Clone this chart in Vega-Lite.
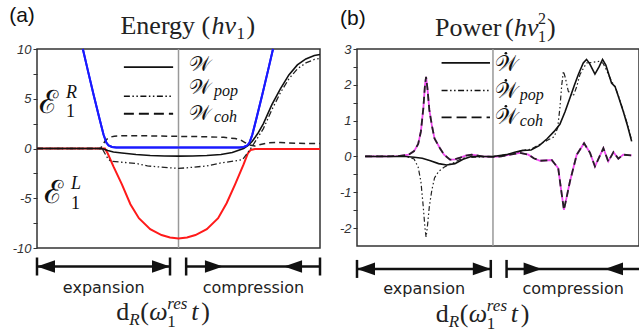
{
"$schema": "https://vega.github.io/schema/vega-lite/v6.json",
"padding": {"left": 8, "top": 4, "right": 0, "bottom": 0},
"spacing": 12,
"config": {"view": {"stroke": "#333", "strokeWidth": 1.5}, "axis": {"labelOverlap": false, "labelFlush": false}},
"datasets": {
"a": [
{"s":"ER","x":16.2,"y":10},{"s":"ER","x":18,"y":7.8},{"s":"ER","x":20,"y":5.4},{"s":"ER","x":22,"y":3.1},{"s":"ER","x":23.5,"y":1.4},{"s":"ER","x":24.5,"y":0.6},{"s":"ER","x":25.3,"y":0.3},{"s":"ER","x":26.5,"y":0.15},{"s":"ER","x":28,"y":0.1},{"s":"ER","x":50,"y":0.1},{"s":"ER","x":71.6,"y":0.1},{"s":"ER","x":73.1,"y":0.15},{"s":"ER","x":74.3,"y":0.3},{"s":"ER","x":75.1,"y":0.6},{"s":"ER","x":76.1,"y":1.4},{"s":"ER","x":77.6,"y":3.1},{"s":"ER","x":79.6,"y":5.4},{"s":"ER","x":81.6,"y":7.8},{"s":"ER","x":83.4,"y":10},
{"s":"EL","x":0,"y":0},{"s":"EL","x":24,"y":0},{"s":"EL","x":25,"y":-0.5},{"s":"EL","x":27,"y":-1.8},{"s":"EL","x":30,"y":-3.6},{"s":"EL","x":33,"y":-5.6},{"s":"EL","x":36,"y":-7.0},{"s":"EL","x":40,"y":-8.1},{"s":"EL","x":44,"y":-8.7},{"s":"EL","x":47,"y":-8.95},{"s":"EL","x":50,"y":-9.05},{"s":"EL","x":53,"y":-8.95},{"s":"EL","x":56,"y":-8.7},{"s":"EL","x":60,"y":-8.1},{"s":"EL","x":64,"y":-7.0},{"s":"EL","x":67,"y":-5.5},{"s":"EL","x":70,"y":-3.6},{"s":"EL","x":73,"y":-1.6},{"s":"EL","x":74.5,"y":-0.5},{"s":"EL","x":75.5,"y":-0.15},{"s":"EL","x":77,"y":-0.05},{"s":"EL","x":100,"y":-0.05},
{"s":"W","x":0,"y":0},{"s":"W","x":22,"y":0},{"s":"W","x":23.5,"y":-0.05},{"s":"W","x":25,"y":-0.2},{"s":"W","x":27,"y":-0.35},{"s":"W","x":30,"y":-0.45},{"s":"W","x":35,"y":-0.6},{"s":"W","x":40,"y":-0.7},{"s":"W","x":45,"y":-0.75},{"s":"W","x":50,"y":-0.77},{"s":"W","x":55,"y":-0.75},{"s":"W","x":60,"y":-0.7},{"s":"W","x":65,"y":-0.6},{"s":"W","x":69,"y":-0.4},{"s":"W","x":71,"y":-0.2},{"s":"W","x":73,"y":0.0},{"s":"W","x":74.5,"y":0.3},{"s":"W","x":76,"y":0.7},{"s":"W","x":78,"y":1.5},{"s":"W","x":80,"y":2.5},{"s":"W","x":83,"y":4.4},{"s":"W","x":86,"y":6.0},{"s":"W","x":89,"y":7.4},{"s":"W","x":92,"y":8.4},{"s":"W","x":95,"y":9.0},{"s":"W","x":98,"y":9.35},{"s":"W","x":100,"y":9.45},
{"s":"Wpop","x":0,"y":0},{"s":"Wpop","x":23,"y":0},{"s":"Wpop","x":24,"y":-0.5},{"s":"Wpop","x":25,"y":-1.0},{"s":"Wpop","x":26,"y":-1.28},{"s":"Wpop","x":30,"y":-1.38},{"s":"Wpop","x":35,"y":-1.5},{"s":"Wpop","x":39,"y":-1.75},{"s":"Wpop","x":45,"y":-1.9},{"s":"Wpop","x":50,"y":-2.0},{"s":"Wpop","x":53,"y":-1.94},{"s":"Wpop","x":60,"y":-1.75},{"s":"Wpop","x":65,"y":-1.45},{"s":"Wpop","x":70,"y":-1.25},{"s":"Wpop","x":72.7,"y":-1.1},{"s":"Wpop","x":74,"y":-0.6},{"s":"Wpop","x":76,"y":0.2},{"s":"Wpop","x":78,"y":1.1},{"s":"Wpop","x":80,"y":2.0},{"s":"Wpop","x":83,"y":3.9},{"s":"Wpop","x":86,"y":5.6},{"s":"Wpop","x":89,"y":7.0},{"s":"Wpop","x":92,"y":8.0},{"s":"Wpop","x":95,"y":8.6},{"s":"Wpop","x":98,"y":8.95},{"s":"Wpop","x":100,"y":9.05},
{"s":"Wcoh","x":0,"y":0},{"s":"Wcoh","x":22.5,"y":0},{"s":"Wcoh","x":23.2,"y":0.4},{"s":"Wcoh","x":24.5,"y":0.9},{"s":"Wcoh","x":26,"y":1.15},{"s":"Wcoh","x":27.3,"y":1.24},{"s":"Wcoh","x":30,"y":1.28},{"s":"Wcoh","x":40,"y":1.27},{"s":"Wcoh","x":50,"y":1.22},{"s":"Wcoh","x":60,"y":1.18},{"s":"Wcoh","x":66,"y":1.12},{"s":"Wcoh","x":70,"y":1.0},{"s":"Wcoh","x":72,"y":0.85},{"s":"Wcoh","x":73.5,"y":0.6},{"s":"Wcoh","x":75,"y":0.35},{"s":"Wcoh","x":77,"y":0.25},{"s":"Wcoh","x":79,"y":0.4},{"s":"Wcoh","x":82,"y":0.58},{"s":"Wcoh","x":86,"y":0.6},{"s":"Wcoh","x":92,"y":0.52},{"s":"Wcoh","x":100,"y":0.5}
],
"b": [
{"s":"W","x":3,"y":0},{"s":"W","x":18,"y":0},{"s":"W","x":21,"y":-0.02},{"s":"W","x":24,"y":-0.05},{"s":"W","x":27,"y":-0.12},{"s":"W","x":30,"y":-0.2},{"s":"W","x":33,"y":-0.24},{"s":"W","x":36,"y":-0.2},{"s":"W","x":39,"y":-0.08},{"s":"W","x":42,"y":0},{"s":"W","x":50,"y":0},{"s":"W","x":55,"y":0.05},{"s":"W","x":58,"y":0.12},{"s":"W","x":61,"y":0.17},{"s":"W","x":64,"y":0.18},{"s":"W","x":67,"y":0.3},{"s":"W","x":70,"y":0.5},{"s":"W","x":72.5,"y":0.7},{"s":"W","x":74.6,"y":0.9},{"s":"W","x":76.5,"y":1.25},{"s":"W","x":78.3,"y":1.63},{"s":"W","x":80,"y":2.0},{"s":"W","x":81.4,"y":2.29},{"s":"W","x":83.2,"y":2.61},{"s":"W","x":84.4,"y":2.71},{"s":"W","x":85.5,"y":2.6},{"s":"W","x":87.5,"y":2.3},{"s":"W","x":89,"y":2.5},{"s":"W","x":90.3,"y":2.71},{"s":"W","x":91.5,"y":2.55},{"s":"W","x":93.6,"y":2.05},{"s":"W","x":94.9,"y":1.95},{"s":"W","x":96,"y":1.7},{"s":"W","x":97.9,"y":1.26},{"s":"W","x":99.5,"y":0.85},{"s":"W","x":101,"y":0.42},
{"s":"Wpop","x":3,"y":0},{"s":"Wpop","x":18,"y":0},{"s":"Wpop","x":21,"y":-0.07},{"s":"Wpop","x":22.5,"y":-0.3},{"s":"Wpop","x":23.5,"y":-0.7},{"s":"Wpop","x":24.3,"y":-1.35},{"s":"Wpop","x":25,"y":-2.0},{"s":"Wpop","x":25.4,"y":-2.25},{"s":"Wpop","x":25.9,"y":-1.95},{"s":"Wpop","x":26.6,"y":-1.4},{"s":"Wpop","x":27.5,"y":-0.95},{"s":"Wpop","x":28.5,"y":-0.6},{"s":"Wpop","x":30,"y":-0.42},{"s":"Wpop","x":32,"y":-0.3},{"s":"Wpop","x":34,"y":-0.22},{"s":"Wpop","x":36,"y":-0.16},{"s":"Wpop","x":38,"y":-0.08},{"s":"Wpop","x":40,"y":-0.03},{"s":"Wpop","x":44,"y":-0.02},{"s":"Wpop","x":50,"y":0},{"s":"Wpop","x":55,"y":0.05},{"s":"Wpop","x":58,"y":0.1},{"s":"Wpop","x":61,"y":0.17},{"s":"Wpop","x":64,"y":0.2},{"s":"Wpop","x":67,"y":0.33},{"s":"Wpop","x":70,"y":0.45},{"s":"Wpop","x":72.5,"y":0.55},{"s":"Wpop","x":73.8,"y":0.8},{"s":"Wpop","x":74.6,"y":1.35},{"s":"Wpop","x":75.3,"y":2.0},{"s":"Wpop","x":75.9,"y":2.38},{"s":"Wpop","x":76.6,"y":2.2},{"s":"Wpop","x":77.7,"y":1.82},{"s":"Wpop","x":79.5,"y":1.68},{"s":"Wpop","x":80.8,"y":1.95},{"s":"Wpop","x":82,"y":2.29},{"s":"Wpop","x":84.4,"y":2.61},{"s":"Wpop","x":87,"y":2.63},{"s":"Wpop","x":89.3,"y":2.66},{"s":"Wpop","x":90.5,"y":2.6},{"s":"Wpop","x":91.8,"y":2.4},{"s":"Wpop","x":93.6,"y":2.1},{"s":"Wpop","x":94.9,"y":1.95},{"s":"Wpop","x":96,"y":1.72},{"s":"Wpop","x":97.9,"y":1.28},{"s":"Wpop","x":99.5,"y":0.88},{"s":"Wpop","x":101,"y":0.45},
{"s":"Wcoh","x":3,"y":0},{"s":"Wcoh","x":10,"y":0},{"s":"Wcoh","x":15,"y":0.01},{"s":"Wcoh","x":19,"y":0.05},{"s":"Wcoh","x":21,"y":0.15},{"s":"Wcoh","x":22.5,"y":0.35},{"s":"Wcoh","x":23.5,"y":0.7},{"s":"Wcoh","x":24.4,"y":1.35},{"s":"Wcoh","x":25,"y":2.0},{"s":"Wcoh","x":25.4,"y":2.22},{"s":"Wcoh","x":25.9,"y":1.9},{"s":"Wcoh","x":26.6,"y":1.3},{"s":"Wcoh","x":27.5,"y":0.88},{"s":"Wcoh","x":28.5,"y":0.5},{"s":"Wcoh","x":30.5,"y":0.23},{"s":"Wcoh","x":32,"y":0.05},{"s":"Wcoh","x":34.2,"y":-0.09},{"s":"Wcoh","x":36,"y":-0.08},{"s":"Wcoh","x":38,"y":-0.03},{"s":"Wcoh","x":40,"y":0.02},{"s":"Wcoh","x":42.2,"y":0.05},{"s":"Wcoh","x":44,"y":0.03},{"s":"Wcoh","x":46,"y":0},{"s":"Wcoh","x":50,"y":-0.01},{"s":"Wcoh","x":53,"y":0},{"s":"Wcoh","x":56.3,"y":0.05},{"s":"Wcoh","x":60,"y":0.1},{"s":"Wcoh","x":63,"y":0.05},{"s":"Wcoh","x":65,"y":-0.05},{"s":"Wcoh","x":67.3,"y":-0.12},{"s":"Wcoh","x":71.6,"y":-0.1},{"s":"Wcoh","x":74,"y":-0.33},{"s":"Wcoh","x":75,"y":-0.9},{"s":"Wcoh","x":76.1,"y":-1.49},{"s":"Wcoh","x":77.2,"y":-1.1},{"s":"Wcoh","x":78.3,"y":-0.7},{"s":"Wcoh","x":80.8,"y":0.05},{"s":"Wcoh","x":83.5,"y":0.37},{"s":"Wcoh","x":85.7,"y":0.1},{"s":"Wcoh","x":87.5,"y":-0.28},{"s":"Wcoh","x":90.6,"y":0.23},{"s":"Wcoh","x":92.4,"y":-0.14},{"s":"Wcoh","x":94.3,"y":0.12},{"s":"Wcoh","x":96.1,"y":-0.06},{"s":"Wcoh","x":97.9,"y":0.05},{"s":"Wcoh","x":101,"y":0.03}
]
},
"hconcat": [
{
"width": 283, "height": 199,
"data": {"values": [{}]},
"layer": [
{"data": {"name": "a"}, "transform": [{"filter": "datum.s === 'ER'"}], "mark": {"type": "line", "color": "#1a1aff", "strokeWidth": 2},
 "encoding": {"x": {"field": "x", "type": "quantitative", "scale": {"domain": [0, 100], "nice": false, "zero": false}, "axis": null},
  "y": {"field": "y", "type": "quantitative", "scale": {"domain": [-10, 10], "nice": false, "zero": false},
   "axis": {"title": null, "values": [-10, -7.5, -5, -2.5, 0, 2.5, 5, 7.5, 10], "tickCount": 40, "labelExpr": "datum.value % 5 == 0 ? toString(datum.value) : ''", "grid": false, "domain": false, "ticks": true, "tickSize": 4, "tickColor": "#333", "tickWidth": 1, "labelFont": "Liberation Sans", "labelFontStyle": "italic", "labelFontSize": 13, "labelColor": "#333", "labelPadding": 2, "labelOverlap": false, "labelFlush": false}}}},
{"mark": {"type": "rule", "color": "#999", "strokeWidth": 1.5}, "encoding": {"x": {"datum": 50, "type": "quantitative", "axis": null}}},
{"data": {"name": "a"}, "transform": [{"filter": "datum.s === 'EL'"}], "mark": {"type": "line", "color": "#ff1a1a", "strokeWidth": 2}, "encoding": {"x": {"field": "x", "type": "quantitative", "axis": null}, "y": {"field": "y", "type": "quantitative"}}},
{"data": {"name": "a"}, "transform": [{"filter": "datum.s === 'Wcoh'"}], "mark": {"type": "line", "color": "#222", "strokeWidth": 1.5, "strokeDash": [6, 4]}, "encoding": {"x": {"field": "x", "type": "quantitative", "axis": null}, "y": {"field": "y", "type": "quantitative"}}},
{"data": {"name": "a"}, "transform": [{"filter": "datum.s === 'Wpop'"}], "mark": {"type": "line", "color": "#222", "strokeWidth": 1.3, "strokeDash": [6, 2.5, 1.5, 2.5, 1.5, 2.5]}, "encoding": {"x": {"field": "x", "type": "quantitative", "axis": null}, "y": {"field": "y", "type": "quantitative"}}},
{"data": {"name": "a"}, "transform": [{"filter": "datum.s === 'W'"}], "mark": {"type": "line", "color": "#111", "strokeWidth": 1.6}, "encoding": {"x": {"field": "x", "type": "quantitative", "axis": null}, "y": {"field": "y", "type": "quantitative"}}},
{"data": {"name": "a"}, "transform": [{"filter": "datum.s === 'ER'"}], "mark": {"type": "line", "color": "#1a1aff", "strokeWidth": 2}, "encoding": {"x": {"field": "x", "type": "quantitative", "axis": null}, "y": {"field": "y", "type": "quantitative"}}},
{"mark": {"type": "rule", "color": "#111", "strokeWidth": 1.8}, "encoding": {"x": {"datum": 30.7, "type": "quantitative", "axis": null}, "x2": {"datum": 48.1}, "y": {"datum": 8.17, "type": "quantitative"}}},
{"mark": {"type": "rule", "color": "#111", "strokeWidth": 1.5, "strokeDash": [6, 2.5, 1.5, 2.5, 1.5, 2.5]}, "encoding": {"x": {"datum": 30.7, "type": "quantitative", "axis": null}, "x2": {"datum": 48.1}, "y": {"datum": 5.26, "type": "quantitative"}}},
{"mark": {"type": "rule", "color": "#111", "strokeWidth": 1.8, "strokeDash": [10, 5]}, "encoding": {"x": {"datum": 30.7, "type": "quantitative", "axis": null}, "x2": {"datum": 48.1}, "y": {"datum": 3.49, "type": "quantitative"}}},
{"mark": {"type": "text", "text": "𝒲", "font": "DejaVu Serif", "fontSize": 21, "align": "left", "baseline": "alphabetic", "color": "#111"}, "encoding": {"x": {"datum": 53.7, "type": "quantitative", "axis": null}, "y": {"datum": 7.8, "type": "quantitative"}}},
{"mark": {"type": "text", "text": "𝒲", "font": "DejaVu Serif", "fontSize": 21, "align": "left", "baseline": "alphabetic", "color": "#111"}, "encoding": {"x": {"datum": 53.7, "type": "quantitative", "axis": null}, "y": {"datum": 5.43, "type": "quantitative"}}},
{"mark": {"type": "text", "text": "𝒲", "font": "DejaVu Serif", "fontSize": 21, "align": "left", "baseline": "alphabetic", "color": "#111"}, "encoding": {"x": {"datum": 53.7, "type": "quantitative", "axis": null}, "y": {"datum": 2.91, "type": "quantitative"}}},
{"mark": {"type": "text", "text": "pop", "font": "Liberation Serif", "fontStyle": "italic", "fontSize": 16, "align": "left", "baseline": "alphabetic", "dx": 25, "dy": 2, "color": "#111"}, "encoding": {"x": {"datum": 53.7, "type": "quantitative", "axis": null}, "y": {"datum": 5.43, "type": "quantitative"}}},
{"mark": {"type": "text", "text": "coh", "font": "Liberation Serif", "fontStyle": "italic", "fontSize": 16, "align": "left", "baseline": "alphabetic", "dx": 25, "dy": 2, "color": "#111"}, "encoding": {"x": {"datum": 53.7, "type": "quantitative", "axis": null}, "y": {"datum": 2.91, "type": "quantitative"}}},
{"mark": {"type": "text", "text": "ℰ", "font": "DejaVu Serif", "fontSize": 32, "align": "left", "baseline": "alphabetic", "color": "#111"}, "encoding": {"x": {"datum": 0.7, "type": "quantitative", "axis": null}, "y": {"datum": 3.6, "type": "quantitative"}}},
{"mark": {"type": "text", "text": "R", "font": "Liberation Serif", "fontStyle": "italic", "fontSize": 18, "align": "left", "baseline": "alphabetic", "dx": 27, "dy": -15, "color": "#111"}, "encoding": {"x": {"datum": 0.7, "type": "quantitative", "axis": null}, "y": {"datum": 3.6, "type": "quantitative"}}},
{"mark": {"type": "text", "text": "1", "font": "Liberation Serif", "fontSize": 18, "align": "left", "baseline": "alphabetic", "dx": 27, "dy": 4, "color": "#111"}, "encoding": {"x": {"datum": 0.7, "type": "quantitative", "axis": null}, "y": {"datum": 3.6, "type": "quantitative"}}},
{"mark": {"type": "text", "text": "ℰ", "font": "DejaVu Serif", "fontSize": 32, "align": "left", "baseline": "alphabetic", "color": "#111"}, "encoding": {"x": {"datum": 2.5, "type": "quantitative", "axis": null}, "y": {"datum": -5.43, "type": "quantitative"}}},
{"mark": {"type": "text", "text": "L", "font": "Liberation Serif", "fontStyle": "italic", "fontSize": 18, "align": "left", "baseline": "alphabetic", "dx": 27, "dy": -14, "color": "#111"}, "encoding": {"x": {"datum": 2.5, "type": "quantitative", "axis": null}, "y": {"datum": -5.43, "type": "quantitative"}}},
{"mark": {"type": "text", "text": "1", "font": "Liberation Serif", "fontSize": 18, "align": "left", "baseline": "alphabetic", "dx": 27, "dy": 6, "color": "#111"}, "encoding": {"x": {"datum": 2.5, "type": "quantitative", "axis": null}, "y": {"datum": -5.43, "type": "quantitative"}}},
{"mark": {"type": "text", "text": "(a)", "font": "Liberation Sans", "fontSize": 21, "align": "center", "baseline": "middle", "color": "#111"}, "encoding": {"x": {"datum": -5.3, "type": "quantitative", "axis": null}, "y": {"datum": 13.27, "type": "quantitative"}}},
{"mark": {"type": "text", "text": "Energy", "font": "Liberation Serif", "fontSize": 26, "align": "left", "baseline": "alphabetic", "color": "#222"}, "encoding": {"x": {"datum": 29.5, "type": "quantitative", "axis": null}, "y": {"datum": 11.46, "type": "quantitative"}}},
{"mark": {"type": "text", "text": "(", "font": "Liberation Serif", "fontSize": 26, "align": "left", "baseline": "alphabetic", "dx": 81, "color": "#222"}, "encoding": {"x": {"datum": 29.5, "type": "quantitative", "axis": null}, "y": {"datum": 11.46, "type": "quantitative"}}},
{"mark": {"type": "text", "text": "hν", "font": "Liberation Serif", "fontStyle": "italic", "fontSize": 26, "align": "left", "baseline": "alphabetic", "dx": 91, "color": "#222"}, "encoding": {"x": {"datum": 29.5, "type": "quantitative", "axis": null}, "y": {"datum": 11.46, "type": "quantitative"}}},
{"mark": {"type": "text", "text": "1", "font": "Liberation Serif", "fontSize": 17, "align": "left", "baseline": "alphabetic", "dx": 116, "dy": 5, "color": "#222"}, "encoding": {"x": {"datum": 29.5, "type": "quantitative", "axis": null}, "y": {"datum": 11.46, "type": "quantitative"}}},
{"mark": {"type": "text", "text": ")", "font": "Liberation Serif", "fontSize": 26, "align": "left", "baseline": "alphabetic", "dx": 126, "color": "#222"}, "encoding": {"x": {"datum": 29.5, "type": "quantitative", "axis": null}, "y": {"datum": 11.46, "type": "quantitative"}}},
{"mark": {"type": "rule", "color": "#111", "strokeWidth": 2.5}, "encoding": {"x": {"datum": 0, "type": "quantitative", "axis": null}, "x2": {"datum": 47}, "y": {"datum": -11.86, "type": "quantitative"}}},
{"mark": {"type": "rule", "color": "#111", "strokeWidth": 2.5}, "encoding": {"x": {"datum": 52.7, "type": "quantitative", "axis": null}, "x2": {"datum": 100}, "y": {"datum": -11.86, "type": "quantitative"}}},
{"data": {"values": [{"p": 0}, {"p": 47}, {"p": 52.7}, {"p": 100}]}, "mark": {"type": "point", "shape": "M0,-1L0,1", "filled": false, "color": "#111", "strokeWidth": 2.5, "size": 324, "opacity": 1}, "encoding": {"x": {"field": "p", "type": "quantitative", "axis": null}, "y": {"datum": -11.86, "type": "quantitative"}}},
{"data": {"values": [{"p": 0}, {"p": 87.3}]}, "mark": {"type": "point", "shape": "M0,0L2,-0.7L2,0.7Z", "filled": true, "color": "#111", "size": 324, "opacity": 1}, "encoding": {"x": {"field": "p", "type": "quantitative", "axis": null}, "y": {"datum": -11.86, "type": "quantitative"}}},
{"data": {"values": [{"p": 47}, {"p": 65.7}]}, "mark": {"type": "point", "shape": "M0,0L-2,-0.7L-2,0.7Z", "filled": true, "color": "#111", "size": 324, "opacity": 1}, "encoding": {"x": {"field": "p", "type": "quantitative", "axis": null}, "y": {"datum": -11.86, "type": "quantitative"}}},
{"mark": {"type": "text", "text": "expansion", "font": "DejaVu Sans", "fontSize": 16, "align": "center", "baseline": "middle", "color": "#222"}, "encoding": {"x": {"datum": 23.6, "type": "quantitative", "axis": null}, "y": {"datum": -13.97, "type": "quantitative"}}},
{"mark": {"type": "text", "text": "compression", "font": "DejaVu Sans", "fontSize": 16, "align": "center", "baseline": "middle", "color": "#222"}, "encoding": {"x": {"datum": 76.5, "type": "quantitative", "axis": null}, "y": {"datum": -13.97, "type": "quantitative"}}},
{"mark": {"type": "text", "text": "d", "font": "Liberation Serif", "fontSize": 26, "align": "left", "baseline": "alphabetic", "color": "#222"}, "encoding": {"x": {"datum": 28, "type": "quantitative", "axis": null}, "y": {"datum": -17.19, "type": "quantitative"}}},
{"mark": {"type": "text", "text": "R", "font": "Liberation Serif", "fontStyle": "italic", "fontSize": 17, "align": "left", "baseline": "alphabetic", "dx": 13, "dy": 5, "color": "#222"}, "encoding": {"x": {"datum": 28, "type": "quantitative", "axis": null}, "y": {"datum": -17.19, "type": "quantitative"}}},
{"mark": {"type": "text", "text": "(", "font": "Liberation Serif", "fontSize": 26, "align": "left", "baseline": "alphabetic", "dx": 24, "color": "#222"}, "encoding": {"x": {"datum": 28, "type": "quantitative", "axis": null}, "y": {"datum": -17.19, "type": "quantitative"}}},
{"mark": {"type": "text", "text": "ω", "font": "Liberation Serif", "fontStyle": "italic", "fontSize": 26, "align": "left", "baseline": "alphabetic", "dx": 33, "color": "#222"}, "encoding": {"x": {"datum": 28, "type": "quantitative", "axis": null}, "y": {"datum": -17.19, "type": "quantitative"}}},
{"mark": {"type": "text", "text": "1", "font": "Liberation Serif", "fontSize": 17, "align": "left", "baseline": "alphabetic", "dx": 51, "dy": 7, "color": "#222"}, "encoding": {"x": {"datum": 28, "type": "quantitative", "axis": null}, "y": {"datum": -17.19, "type": "quantitative"}}},
{"mark": {"type": "text", "text": "res", "font": "Liberation Serif", "fontStyle": "italic", "fontSize": 17, "align": "left", "baseline": "alphabetic", "dx": 51, "dy": -11, "color": "#222"}, "encoding": {"x": {"datum": 28, "type": "quantitative", "axis": null}, "y": {"datum": -17.19, "type": "quantitative"}}},
{"mark": {"type": "text", "text": "t", "font": "Liberation Serif", "fontStyle": "italic", "fontSize": 26, "align": "left", "baseline": "alphabetic", "dx": 75, "color": "#222"}, "encoding": {"x": {"datum": 28, "type": "quantitative", "axis": null}, "y": {"datum": -17.19, "type": "quantitative"}}},
{"mark": {"type": "text", "text": ")", "font": "Liberation Serif", "fontSize": 26, "align": "left", "baseline": "alphabetic", "dx": 85, "color": "#222"}, "encoding": {"x": {"datum": 28, "type": "quantitative", "axis": null}, "y": {"datum": -17.19, "type": "quantitative"}}}
]
},
{
"width": 282, "height": 197,
"data": {"values": [{}]},
"layer": [
{"data": {"name": "b"}, "transform": [{"filter": "datum.s === 'Wcoh'"}], "mark": {"type": "line", "color": "#f04af0", "strokeWidth": 1.8},
 "encoding": {"x": {"field": "x", "type": "quantitative", "scale": {"domain": [0, 103.7], "nice": false, "zero": false}, "axis": null},
  "y": {"field": "y", "type": "quantitative", "scale": {"domain": [-2.5, 3], "nice": false, "zero": false},
   "axis": {"title": null, "values": [-2, -1.5, -1, -0.5, 0, 0.5, 1, 1.5, 2, 2.5, 3], "tickCount": 40, "labelExpr": "datum.value % 1 == 0 ? toString(datum.value) : ''", "grid": false, "domain": false, "ticks": true, "tickSize": 4, "tickColor": "#333", "tickWidth": 1, "labelFont": "Liberation Sans", "labelFontStyle": "italic", "labelFontSize": 13, "labelColor": "#333", "labelPadding": 2, "labelOverlap": false, "labelFlush": false}}}},
{"mark": {"type": "rule", "color": "#999", "strokeWidth": 1.5}, "encoding": {"x": {"datum": 50, "type": "quantitative", "axis": null}}},
{"data": {"name": "b"}, "transform": [{"filter": "datum.s === 'Wcoh'"}], "mark": {"type": "line", "color": "#222", "strokeWidth": 1.8, "strokeDash": [7, 4]}, "encoding": {"x": {"field": "x", "type": "quantitative", "axis": null}, "y": {"field": "y", "type": "quantitative"}}},
{"data": {"name": "b"}, "transform": [{"filter": "datum.s === 'Wpop'"}], "mark": {"type": "line", "color": "#222", "strokeWidth": 1.2, "strokeDash": [5, 2.5, 1.5, 2.5, 1.5, 2.5]}, "encoding": {"x": {"field": "x", "type": "quantitative", "axis": null}, "y": {"field": "y", "type": "quantitative"}}},
{"data": {"name": "b"}, "transform": [{"filter": "datum.s === 'W'"}], "mark": {"type": "line", "color": "#111", "strokeWidth": 1.6}, "encoding": {"x": {"field": "x", "type": "quantitative", "axis": null}, "y": {"field": "y", "type": "quantitative"}}},
{"mark": {"type": "rule", "color": "#111", "strokeWidth": 1.8}, "encoding": {"x": {"datum": 31.1, "type": "quantitative", "axis": null}, "x2": {"datum": 48.9}, "y": {"datum": 2.61, "type": "quantitative"}}},
{"mark": {"type": "rule", "color": "#111", "strokeWidth": 1.5, "strokeDash": [6, 2.5, 1.5, 2.5, 1.5, 2.5]}, "encoding": {"x": {"datum": 31.1, "type": "quantitative", "axis": null}, "x2": {"datum": 48.9}, "y": {"datum": 1.84, "type": "quantitative"}}},
{"mark": {"type": "rule", "color": "#111", "strokeWidth": 1.8, "strokeDash": [10, 5]}, "encoding": {"x": {"datum": 31.1, "type": "quantitative", "axis": null}, "x2": {"datum": 48.9}, "y": {"datum": 1.09, "type": "quantitative"}}},
{"mark": {"type": "text", "text": "𝒲", "font": "DejaVu Serif", "fontSize": 22, "align": "left", "baseline": "alphabetic", "color": "#111"}, "encoding": {"x": {"datum": 50.7, "type": "quantitative", "axis": null}, "y": {"datum": 2.38, "type": "quantitative"}}},
{"mark": {"type": "text", "text": "𝒲", "font": "DejaVu Serif", "fontSize": 22, "align": "left", "baseline": "alphabetic", "color": "#111"}, "encoding": {"x": {"datum": 50.7, "type": "quantitative", "axis": null}, "y": {"datum": 1.62, "type": "quantitative"}}},
{"mark": {"type": "text", "text": "𝒲", "font": "DejaVu Serif", "fontSize": 22, "align": "left", "baseline": "alphabetic", "color": "#111"}, "encoding": {"x": {"datum": 50.7, "type": "quantitative", "axis": null}, "y": {"datum": 0.9, "type": "quantitative"}}},
{"mark": {"type": "circle", "color": "#111", "size": 7, "opacity": 1, "xOffset": 11, "yOffset": -18}, "encoding": {"x": {"datum": 50.7, "type": "quantitative", "axis": null}, "y": {"datum": 2.38, "type": "quantitative"}}},
{"mark": {"type": "circle", "color": "#111", "size": 7, "opacity": 1, "xOffset": 11, "yOffset": -18}, "encoding": {"x": {"datum": 50.7, "type": "quantitative", "axis": null}, "y": {"datum": 1.62, "type": "quantitative"}}},
{"mark": {"type": "circle", "color": "#111", "size": 7, "opacity": 1, "xOffset": 11, "yOffset": -18}, "encoding": {"x": {"datum": 50.7, "type": "quantitative", "axis": null}, "y": {"datum": 0.9, "type": "quantitative"}}},
{"mark": {"type": "text", "text": "pop", "font": "Liberation Serif", "fontStyle": "italic", "fontSize": 16, "align": "left", "baseline": "alphabetic", "dx": 25, "dy": 2, "color": "#111"}, "encoding": {"x": {"datum": 50.7, "type": "quantitative", "axis": null}, "y": {"datum": 1.62, "type": "quantitative"}}},
{"mark": {"type": "text", "text": "coh", "font": "Liberation Serif", "fontStyle": "italic", "fontSize": 16, "align": "left", "baseline": "alphabetic", "dx": 25, "dy": 2, "color": "#111"}, "encoding": {"x": {"datum": 50.7, "type": "quantitative", "axis": null}, "y": {"datum": 0.9, "type": "quantitative"}}},
{"mark": {"type": "text", "text": "(b)", "font": "Liberation Sans", "fontSize": 21, "align": "center", "baseline": "middle", "color": "#111"}, "encoding": {"x": {"datum": -1.5, "type": "quantitative", "axis": null}, "y": {"datum": 3.85, "type": "quantitative"}}},
{"mark": {"type": "text", "text": "Power", "font": "Liberation Serif", "fontSize": 26, "align": "left", "baseline": "alphabetic", "color": "#222"}, "encoding": {"x": {"datum": 28.7, "type": "quantitative", "axis": null}, "y": {"datum": 3.36, "type": "quantitative"}}},
{"mark": {"type": "text", "text": "(", "font": "Liberation Serif", "fontSize": 26, "align": "left", "baseline": "alphabetic", "dx": 70, "color": "#222"}, "encoding": {"x": {"datum": 28.7, "type": "quantitative", "axis": null}, "y": {"datum": 3.36, "type": "quantitative"}}},
{"mark": {"type": "text", "text": "hν", "font": "Liberation Serif", "fontStyle": "italic", "fontSize": 26, "align": "left", "baseline": "alphabetic", "dx": 79, "color": "#222"}, "encoding": {"x": {"datum": 28.7, "type": "quantitative", "axis": null}, "y": {"datum": 3.36, "type": "quantitative"}}},
{"mark": {"type": "text", "text": "2", "font": "Liberation Serif", "fontSize": 16, "align": "left", "baseline": "alphabetic", "dx": 103, "dy": -12, "color": "#222"}, "encoding": {"x": {"datum": 28.7, "type": "quantitative", "axis": null}, "y": {"datum": 3.36, "type": "quantitative"}}},
{"mark": {"type": "text", "text": "1", "font": "Liberation Serif", "fontSize": 16, "align": "left", "baseline": "alphabetic", "dx": 103, "dy": 6, "color": "#222"}, "encoding": {"x": {"datum": 28.7, "type": "quantitative", "axis": null}, "y": {"datum": 3.36, "type": "quantitative"}}},
{"mark": {"type": "text", "text": ")", "font": "Liberation Serif", "fontSize": 26, "align": "left", "baseline": "alphabetic", "dx": 112, "color": "#222"}, "encoding": {"x": {"datum": 28.7, "type": "quantitative", "axis": null}, "y": {"datum": 3.36, "type": "quantitative"}}},
{"mark": {"type": "rule", "color": "#111", "strokeWidth": 2.5}, "encoding": {"x": {"datum": 0, "type": "quantitative", "axis": null}, "x2": {"datum": 49.2}, "y": {"datum": -3.14, "type": "quantitative"}}},
{"mark": {"type": "rule", "color": "#111", "strokeWidth": 2.5}, "encoding": {"x": {"datum": 55, "type": "quantitative", "axis": null}, "x2": {"datum": 103.7}, "y": {"datum": -3.14, "type": "quantitative"}}},
{"data": {"values": [{"p": 0}, {"p": 49.2}, {"p": 55}]}, "mark": {"type": "point", "shape": "M0,-1L0,1", "filled": false, "color": "#111", "strokeWidth": 2.5, "size": 324, "opacity": 1}, "encoding": {"x": {"field": "p", "type": "quantitative", "axis": null}, "y": {"datum": -3.14, "type": "quantitative"}}},
{"data": {"values": [{"p": 0}, {"p": 91.2}]}, "mark": {"type": "point", "shape": "M0,0L2,-0.7L2,0.7Z", "filled": true, "color": "#111", "size": 324, "opacity": 1}, "encoding": {"x": {"field": "p", "type": "quantitative", "axis": null}, "y": {"datum": -3.14, "type": "quantitative"}}},
{"data": {"values": [{"p": 49.2}, {"p": 67.9}]}, "mark": {"type": "point", "shape": "M0,0L-2,-0.7L-2,0.7Z", "filled": true, "color": "#111", "size": 324, "opacity": 1}, "encoding": {"x": {"field": "p", "type": "quantitative", "axis": null}, "y": {"datum": -3.14, "type": "quantitative"}}},
{"mark": {"type": "text", "text": "expansion", "font": "DejaVu Sans", "fontSize": 16, "align": "center", "baseline": "middle", "color": "#222"}, "encoding": {"x": {"datum": 24.7, "type": "quantitative", "axis": null}, "y": {"datum": -3.69, "type": "quantitative"}}},
{"mark": {"type": "text", "text": "compression", "font": "DejaVu Sans", "fontSize": 16, "align": "center", "baseline": "middle", "color": "#222"}, "encoding": {"x": {"datum": 79.5, "type": "quantitative", "axis": null}, "y": {"datum": -3.69, "type": "quantitative"}}},
{"mark": {"type": "text", "text": "d", "font": "Liberation Serif", "fontSize": 26, "align": "left", "baseline": "alphabetic", "color": "#222"}, "encoding": {"x": {"datum": 29, "type": "quantitative", "axis": null}, "y": {"datum": -4.62, "type": "quantitative"}}},
{"mark": {"type": "text", "text": "R", "font": "Liberation Serif", "fontStyle": "italic", "fontSize": 17, "align": "left", "baseline": "alphabetic", "dx": 13, "dy": 5, "color": "#222"}, "encoding": {"x": {"datum": 29, "type": "quantitative", "axis": null}, "y": {"datum": -4.62, "type": "quantitative"}}},
{"mark": {"type": "text", "text": "(", "font": "Liberation Serif", "fontSize": 26, "align": "left", "baseline": "alphabetic", "dx": 24, "color": "#222"}, "encoding": {"x": {"datum": 29, "type": "quantitative", "axis": null}, "y": {"datum": -4.62, "type": "quantitative"}}},
{"mark": {"type": "text", "text": "ω", "font": "Liberation Serif", "fontStyle": "italic", "fontSize": 26, "align": "left", "baseline": "alphabetic", "dx": 33, "color": "#222"}, "encoding": {"x": {"datum": 29, "type": "quantitative", "axis": null}, "y": {"datum": -4.62, "type": "quantitative"}}},
{"mark": {"type": "text", "text": "1", "font": "Liberation Serif", "fontSize": 17, "align": "left", "baseline": "alphabetic", "dx": 51, "dy": 7, "color": "#222"}, "encoding": {"x": {"datum": 29, "type": "quantitative", "axis": null}, "y": {"datum": -4.62, "type": "quantitative"}}},
{"mark": {"type": "text", "text": "res", "font": "Liberation Serif", "fontStyle": "italic", "fontSize": 17, "align": "left", "baseline": "alphabetic", "dx": 51, "dy": -11, "color": "#222"}, "encoding": {"x": {"datum": 29, "type": "quantitative", "axis": null}, "y": {"datum": -4.62, "type": "quantitative"}}},
{"mark": {"type": "text", "text": "t", "font": "Liberation Serif", "fontStyle": "italic", "fontSize": 26, "align": "left", "baseline": "alphabetic", "dx": 75, "color": "#222"}, "encoding": {"x": {"datum": 29, "type": "quantitative", "axis": null}, "y": {"datum": -4.62, "type": "quantitative"}}},
{"mark": {"type": "text", "text": ")", "font": "Liberation Serif", "fontSize": 26, "align": "left", "baseline": "alphabetic", "dx": 85, "color": "#222"}, "encoding": {"x": {"datum": 29, "type": "quantitative", "axis": null}, "y": {"datum": -4.62, "type": "quantitative"}}}
]
}
]
}
